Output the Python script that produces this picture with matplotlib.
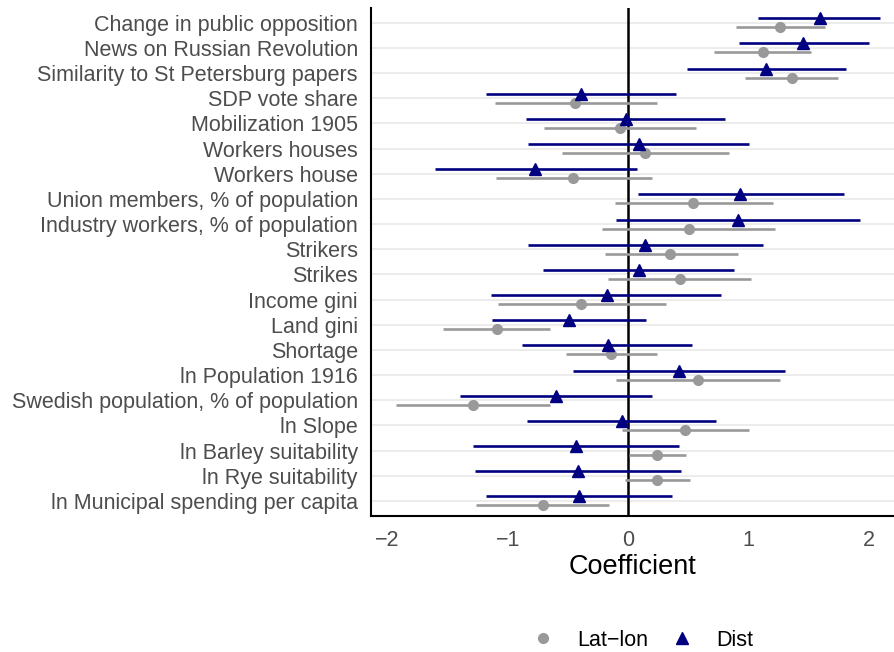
import matplotlib
matplotlib.use("Agg")
import matplotlib.pyplot as plt
from matplotlib.lines import Line2D
import numpy as np

plt.rcParams['font.family'] = ['Liberation Sans', 'DejaVu Sans']

categories = [
    "Change in public opposition",
    "News on Russian Revolution",
    "Similarity to St Petersburg papers",
    "SDP vote share",
    "Mobilization 1905",
    "Workers houses",
    "Workers house",
    "Union members, % of population",
    "Industry workers, % of population",
    "Strikers",
    "Strikes",
    "Income gini",
    "Land gini",
    "Shortage",
    "ln Population 1916",
    "Swedish population, % of population",
    "ln Slope",
    "ln Barley suitability",
    "ln Rye suitability",
    "ln Municipal spending per capita",
]

dist_est = [1.59, 1.45, 1.14, -0.39, -0.02, 0.09, -0.77, 0.93, 0.91, 0.14,
            0.09, -0.18, -0.49, -0.17, 0.42, -0.60, -0.05, -0.43, -0.42, -0.41]
dist_lo = [1.08, 0.92, 0.49, -1.18, -0.85, -0.83, -1.60, 0.08, -0.10, -0.83,
           -0.71, -1.14, -1.13, -0.88, -0.46, -1.40, -0.84, -1.29, -1.27, -1.18]
dist_hi = [2.09, 2.00, 1.81, 0.40, 0.80, 1.00, 0.07, 1.79, 1.92, 1.12,
           0.88, 0.77, 0.15, 0.53, 1.30, 0.20, 0.73, 0.42, 0.44, 0.36]

ll_est = [1.26, 1.12, 1.36, -0.44, -0.07, 0.14, -0.46, 0.54, 0.50, 0.35,
          0.43, -0.39, -1.09, -0.14, 0.58, -1.29, 0.47, 0.24, 0.24, -0.71]
ll_lo = [0.89, 0.71, 0.97, -1.11, -0.70, -0.55, -1.10, -0.11, -0.22, -0.19,
         -0.17, -1.08, -1.54, -0.52, -0.10, -1.93, -0.05, 0.01, -0.03, -1.26]
ll_hi = [1.63, 1.52, 1.74, 0.24, 0.56, 0.84, 0.20, 1.20, 1.22, 0.91,
         1.02, 0.31, -0.65, 0.24, 1.26, -0.65, 1.00, 0.48, 0.51, -0.16]

x_ticks = [-2, -1, 0, 1, 2]
x_label = "Coefficient"
legend_labels = ["Lat\u2212lon", "Dist"]

W, H = 894, 652
fig = plt.figure(figsize=(W / 100, H / 100), dpi=100)
left, right, top, bottom = 371, 894, 7.6, 516
ax = fig.add_axes([left / W, 1 - bottom / H, (right - left) / W, (bottom - top) / H])

n = len(categories)
y = np.arange(n)
off = 0.18
navy = "#000080"
grey = "#999999"

ax.axvline(0, color="black", lw=1.8, zorder=1)

ax.hlines(y - off, dist_lo, dist_hi, color=navy, lw=1.9, zorder=3)
ax.plot(dist_est, y - off, marker="^", ls="none", color=navy, ms=8.5, zorder=4)
ax.hlines(y + off, ll_lo, ll_hi, color=grey, lw=1.9, zorder=2)
ax.plot(ll_est, y + off, marker="o", ls="none", color=grey, ms=7, zorder=3)

ax.set_ylim(n - 1 + 0.6, -0.6)
ax.set_xlim(-2.135, -2.135 + (right - left) / 120.5)
ax.set_yticks(y)
ax.set_yticklabels(categories)
ax.set_xticks(x_ticks)
ax.set_xticklabels(["\u2212" + str(abs(t)) if t < 0 else str(t) for t in x_ticks])
ax.tick_params(axis="both", length=0, labelsize=15.5, labelcolor="#4D4D4D")
ax.tick_params(axis="y", pad=9.5)
ax.tick_params(axis="x", pad=10)
ax.grid(axis="y", color="#EBEBEB", lw=1.3, zorder=0)
ax.set_axisbelow(True)
for s in ["top", "right"]:
    ax.spines[s].set_visible(False)
for s in ["left", "bottom"]:
    ax.spines[s].set_color("black")
    ax.spines[s].set_linewidth(1.5)
ax.set_xlabel(x_label, fontsize=19.5, color="black", labelpad=2)

handles = [
    Line2D([], [], marker="o", ls="none", color=grey, ms=7),
    Line2D([], [], marker="^", ls="none", color=navy, ms=8.5),
]
fig.legend(handles, legend_labels, loc="center", bbox_to_anchor=(643 / W, 1 - 640 / H),
           ncol=2, frameon=False, fontsize=15.5, handlelength=1.0,
           handletextpad=1.1, columnspacing=1.05)

fig.savefig("out.png", dpi=100)
